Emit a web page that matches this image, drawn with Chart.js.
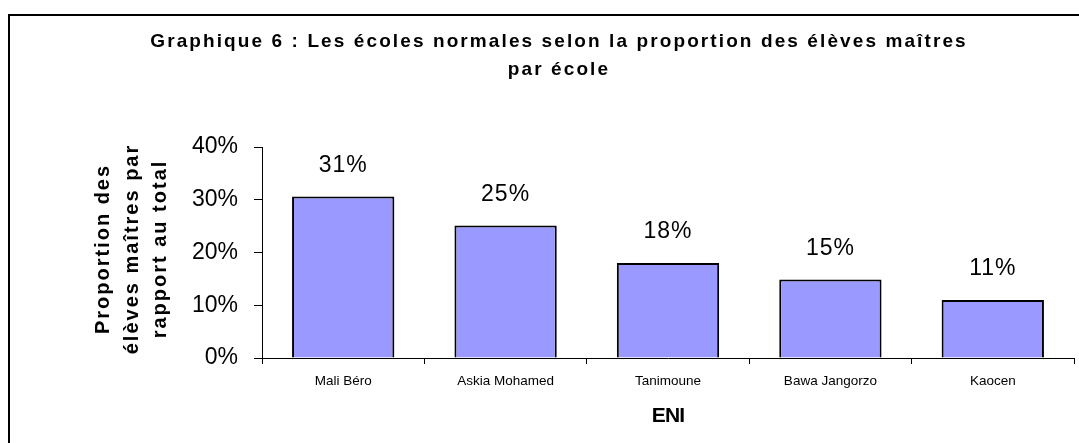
<!DOCTYPE html>
<html>
<head>
<meta charset="utf-8">
<script src="https://cdn.jsdelivr.net/npm/chart.js@4"></script>
<style>
  html, body { margin: 0; padding: 0; background: #fff; }
  #wrap { width: 1079px; height: 443px; }
</style>
</head>
<body>
<div id="wrap"><canvas id="graphique"></canvas></div>
<script>
const ecoles = ['Mali Béro', 'Askia Mohamed', 'Tanimoune', 'Bawa Jangorzo', 'Kaocen'];
const proportions = [0.306, 0.251, 0.18, 0.149, 0.11];
const titre = ['Graphique 6 : Les écoles normales selon la proportion des élèves maîtres', 'par école'];
const titreY = ['Proportion des', 'élèves maîtres par', 'rapport au total'];
const titreX = 'ENI';

const police = '"Liberation Sans", Arial, sans-serif';

// cadre, titres et étiquettes dessinés à la main
const decor = {
  id: 'decor',
  afterDraw(chart) {
    const ctx = chart.ctx, a = chart.chartArea;
    ctx.save();
    ctx.strokeStyle = '#000';
    ctx.lineWidth = 2;
    ctx.strokeRect(9, 15, 1200, 600);

    ctx.fillStyle = '#000';
    ctx.textAlign = 'center';
    ctx.textBaseline = 'middle';
    ctx.font = 'bold 19px ' + police;
    ctx.letterSpacing = '2.1px';
    ctx.fillText(titre[0], 559, 42);
    ctx.fillText(titre[1], 559, 70);

    ctx.letterSpacing = '2px';
    ctx.font = 'bold 20px ' + police;
    const cy = 249;
    [103, 132, 160].forEach((x, i) => {
      ctx.save();
      ctx.translate(x, cy);
      ctx.rotate(-Math.PI / 2);
      ctx.fillText(titreY[i], 0, 0);
      ctx.restore();
    });

    ctx.letterSpacing = '-0.8px';
    ctx.font = 'bold 21px ' + police;
    ctx.fillText(titreX, (a.left + a.right) / 2, 416);

    ctx.letterSpacing = '1px';
    ctx.font = '23px ' + police;
    const meta = chart.getDatasetMeta(0);
    meta.data.forEach((bar, i) => {
      ctx.fillText(Math.round(proportions[i] * 100) + '%', bar.x, bar.y - 31);
    });
    ctx.restore();
  }
};

new Chart(document.getElementById('graphique'), {
  type: 'bar',
  data: {
    labels: ecoles,
    datasets: [{
      data: proportions,
      backgroundColor: '#9999ff',
      borderColor: '#000',
      borderWidth: 2,
      categoryPercentage: 0.63,
      barPercentage: 1
    }]
  },
  options: {
    responsive: true,
    maintainAspectRatio: false,
    animation: false,
    layout: { padding: { left: 0, right: 5, top: 147, bottom: 0 } },
    plugins: { legend: { display: false }, tooltip: { enabled: false }, title: { display: false } },
    scales: {
      x: {
        afterFit(s) { s.height = 443 - 358; },
        grid: { display: true, drawOnChartArea: false, tickLength: 6, color: '#000', offset: true },
        border: { color: '#000', width: 1 },
        ticks: { color: '#000', font: { family: police, size: 13.5 }, padding: 9 }
      },
      y: {
        min: 0,
        max: 0.4,
        afterFit(s) { s.width = 262; },
        grid: { display: true, drawOnChartArea: false, tickLength: 8, color: '#000' },
        border: { color: '#000', width: 1 },
        ticks: {
          stepSize: 0.1,
          color: '#000',
          padding: 16,
          font: { family: police, size: 23 },
          callback: v => Math.round(v * 100) + '%'
        }
      }
    }
  },
  plugins: [decor]
});
</script>
</body>
</html>
